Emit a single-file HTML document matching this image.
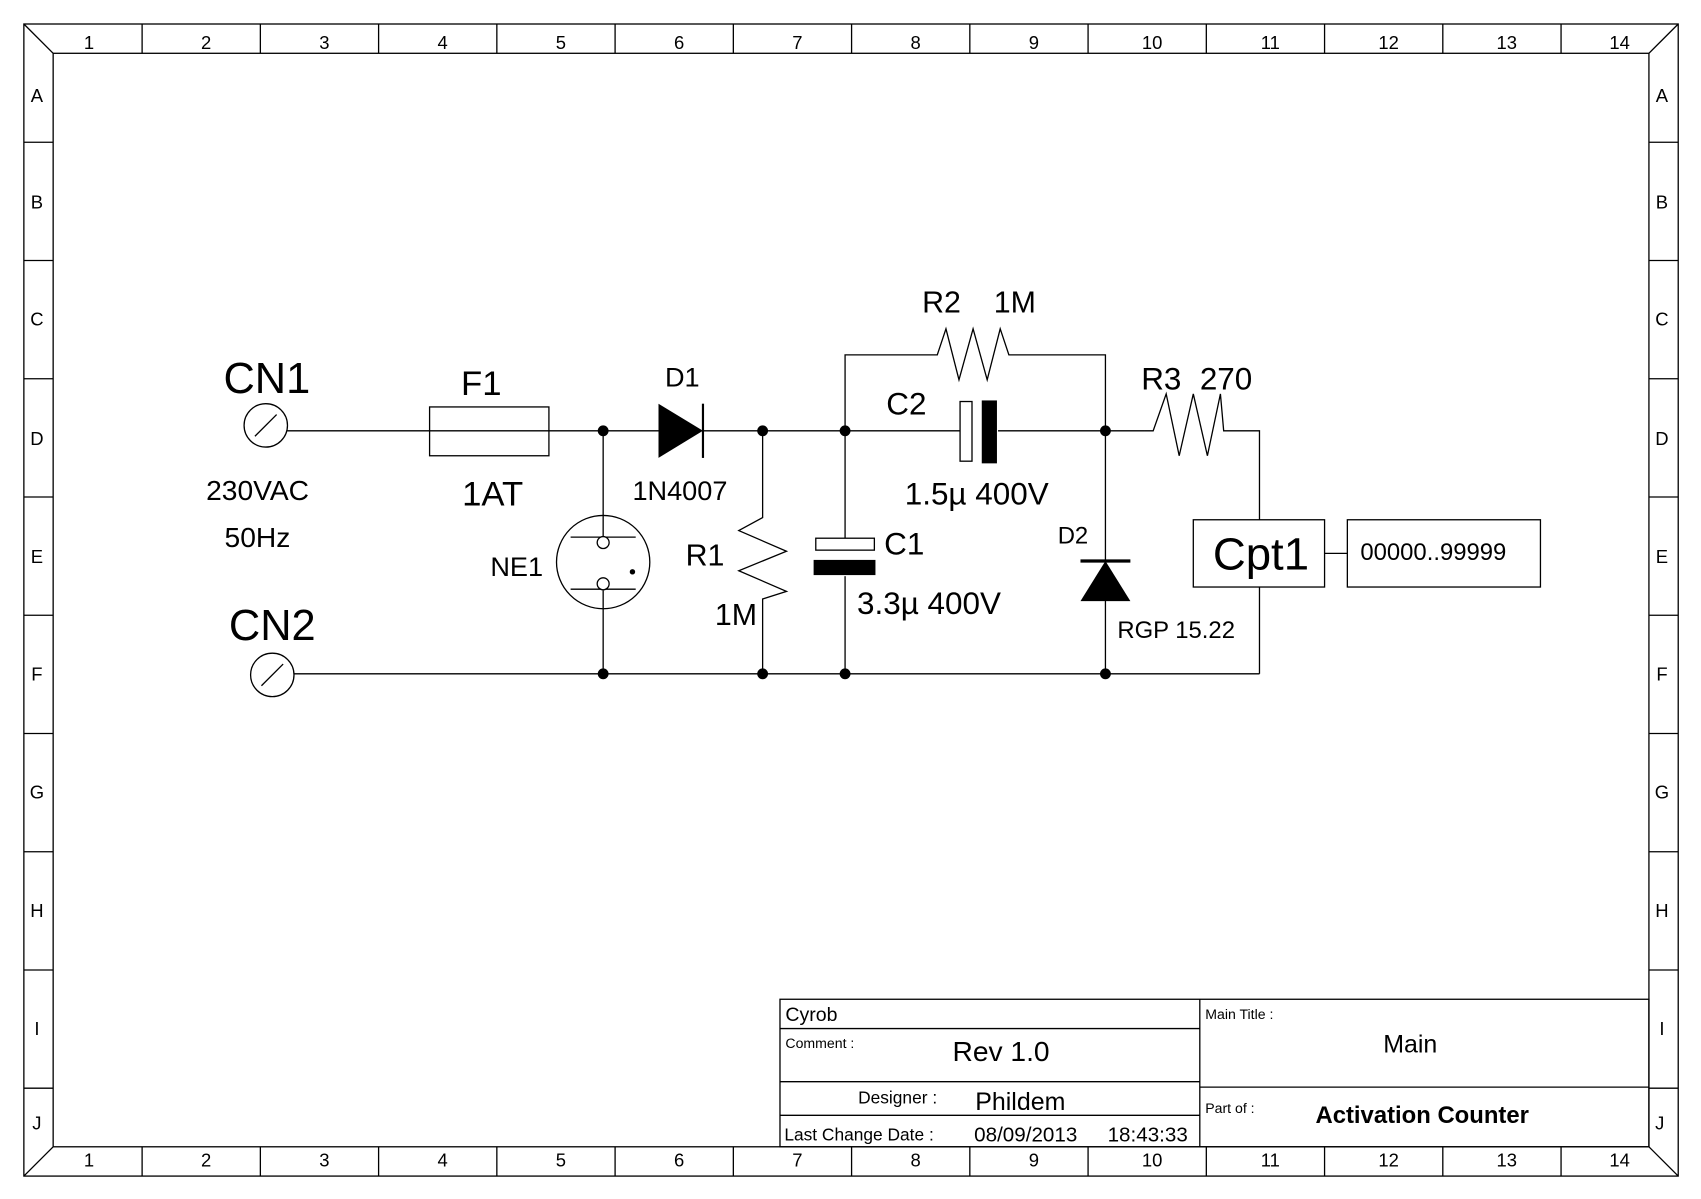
<!DOCTYPE html>
<html><head><meta charset="utf-8"><style>html,body{margin:0;padding:0;background:#fff}svg{display:block}text{font-family:"Liberation Sans",Arial,sans-serif;fill:#000}</style></head>
<body>
<svg width="1701" height="1199" viewBox="0 0 1568 1105" xmlns="http://www.w3.org/2000/svg">
<g fill="none" stroke="#000" stroke-width="1.2">
<rect x="22" y="22" width="1525" height="1062"/>
<rect x="49" y="49" width="1471" height="1008"/>
<line x1="22" y1="22" x2="49" y2="49"/><line x1="1547" y1="22" x2="1520" y2="49"/>
<line x1="22" y1="1084" x2="49" y2="1057"/><line x1="1547" y1="1084" x2="1520" y2="1057"/>
<path d="M131 22V49M240 22V49M349 22V49M458 22V49M567 22V49M676 22V49M785 22V49M894 22V49M1003 22V49M1112 22V49M1221 22V49M1330 22V49M1439 22V49"/>
<path d="M131 1057V1084M240 1057V1084M349 1057V1084M458 1057V1084M567 1057V1084M676 1057V1084M785 1057V1084M894 1057V1084M1003 1057V1084M1112 1057V1084M1221 1057V1084M1330 1057V1084M1439 1057V1084"/>
<path d="M22 131H49M22 240H49M22 349H49M22 458H49M22 567H49M22 676H49M22 785H49M22 894H49M22 1003H49"/>
<path d="M1520 131H1547M1520 240H1547M1520 349H1547M1520 458H1547M1520 567H1547M1520 676H1547M1520 785H1547M1520 894H1547M1520 1003H1547"/>
</g>
<g font-size="17" text-anchor="middle">
<text x="82" y="45">1</text><text x="190" y="45">2</text><text x="299" y="45">3</text><text x="408" y="45">4</text><text x="517" y="45">5</text><text x="626" y="45">6</text><text x="735" y="45">7</text><text x="844" y="45">8</text><text x="953" y="45">9</text><text x="1062" y="45">10</text><text x="1171" y="45">11</text><text x="1280" y="45">12</text><text x="1389" y="45">13</text><text x="1493" y="45">14</text>
<text x="82" y="1075">1</text><text x="190" y="1075">2</text><text x="299" y="1075">3</text><text x="408" y="1075">4</text><text x="517" y="1075">5</text><text x="626" y="1075">6</text><text x="735" y="1075">7</text><text x="844" y="1075">8</text><text x="953" y="1075">9</text><text x="1062" y="1075">10</text><text x="1171" y="1075">11</text><text x="1280" y="1075">12</text><text x="1389" y="1075">13</text><text x="1493" y="1075">14</text>
<text x="34" y="94">A</text><text x="34" y="192">B</text><text x="34" y="300">C</text><text x="34" y="410">D</text><text x="34" y="519">E</text><text x="34" y="627">F</text><text x="34" y="736">G</text><text x="34" y="845">H</text><text x="34" y="954">I</text><text x="34" y="1041">J</text>
<text x="1532" y="94">A</text><text x="1532" y="192">B</text><text x="1532" y="300">C</text><text x="1532" y="410">D</text><text x="1532" y="519">E</text><text x="1532" y="627">F</text><text x="1532" y="736">G</text><text x="1532" y="845">H</text><text x="1532" y="954">I</text><text x="1530" y="1041">J</text>
</g>
<g fill="none" stroke="#000" stroke-width="1.2">
<rect x="719" y="921" width="801" height="136"/>
<line x1="1106" y1="921" x2="1106" y2="1057"/>
<line x1="719" y1="948" x2="1106" y2="948"/>
<line x1="719" y1="997" x2="1106" y2="997"/>
<line x1="719" y1="1028" x2="1106" y2="1028"/>
<line x1="1106" y1="1002" x2="1520" y2="1002"/>
</g>
<text x="724" y="941" font-size="18">Cyrob</text>
<text x="724" y="966" font-size="13">Comment :</text>
<text x="878" y="978" font-size="26">Rev 1.0</text>
<text x="791" y="1017" font-size="16">Designer :</text>
<text x="899" y="1023" font-size="23">Phildem</text>
<text x="723" y="1051" font-size="16">Last Change Date :</text>
<text x="898" y="1052" font-size="19">08/09/2013</text>
<text x="1021" y="1052" font-size="19">18:43:33</text>
<text x="1111" y="939" font-size="13">Main Title :</text>
<text x="1300" y="970" font-size="23" text-anchor="middle">Main</text>
<text x="1111" y="1026" font-size="13">Part of :</text>
<text x="1311" y="1035" font-size="22" font-weight="bold" text-anchor="middle">Activation Counter</text>
<g fill="none" stroke="#000" stroke-width="1.2">
<circle cx="245" cy="392" r="20"/><line x1="235" y1="402" x2="255" y2="382"/>
<circle cx="251" cy="622" r="20"/><line x1="241" y1="632" x2="261" y2="612"/>
<line x1="265" y1="397" x2="607" y2="397"/>
<rect x="396" y="375" width="110" height="45"/>
<line x1="648" y1="397" x2="885" y2="397"/>
<line x1="920" y1="397" x2="1055" y2="397"/>
<polyline points="1055,397 1063,397 1075,363 1087,420 1100,363 1113,420 1125,363 1128,397 1161,397 1161,479"/>
<polyline points="779,397 779,327 864,327 872,303 884,350 897,303 910,350 922,303 930,327 1019,327 1019,397"/>
<line x1="271" y1="621" x2="1161" y2="621"/>
<line x1="1161" y1="621" x2="1161" y2="541"/>
<line x1="556" y1="397" x2="556" y2="494"/>
<line x1="556" y1="544" x2="556" y2="621"/>
<circle cx="556" cy="518" r="43"/>
<line x1="526" y1="495" x2="586" y2="495"/><line x1="526" y1="543" x2="586" y2="543"/>
<circle cx="556" cy="500" r="5.5" fill="#fff"/><circle cx="556" cy="538" r="5.5" fill="#fff"/>
<polyline points="703,397 703,477 681,489 725,508 681,526 725,545 703,552 703,621"/>
<line x1="779" y1="397" x2="779" y2="496"/><line x1="779" y1="531" x2="779" y2="621"/>
<rect x="752" y="496" width="54" height="11"/>
<rect x="885" y="370" width="11" height="55"/>
<line x1="1019" y1="397" x2="1019" y2="621"/>
<rect x="1100" y="479" width="121" height="62"/>
<line x1="1221" y1="510" x2="1242" y2="510"/>
<rect x="1242" y="479" width="178" height="62"/>
<line x1="996" y1="517" x2="1042" y2="517" stroke-width="3"/>
<line x1="648" y1="372" x2="648" y2="422" stroke-width="2"/>
</g>
<polygon points="607,372 648,397 607,422"/>
<rect x="750" y="516" width="57" height="14"/>
<rect x="905" y="369" width="14" height="58"/>
<polygon points="996,554 1019,517 1042,554"/>
<circle cx="583" cy="527" r="2.5"/>
<g>
<circle cx="556" cy="397" r="5"/><circle cx="703" cy="397" r="5"/><circle cx="779" cy="397" r="5"/><circle cx="1019" cy="397" r="5"/>
<circle cx="556" cy="621" r="5"/><circle cx="703" cy="621" r="5"/><circle cx="779" cy="621" r="5"/><circle cx="1019" cy="621" r="5"/>
</g>
<text x="206" y="362" font-size="40">CN1</text>
<text x="211" y="590" font-size="40">CN2</text>
<text x="190" y="461" font-size="26">230VAC</text>
<text x="207" y="504" font-size="26">50Hz</text>
<text x="425" y="364" font-size="32">F1</text>
<text x="426" y="466" font-size="32">1AT</text>
<text x="613" y="356" font-size="25">D1</text>
<text x="583" y="461" font-size="25">1N4007</text>
<text x="452" y="531" font-size="25">NE1</text>
<text x="632" y="521" font-size="28">R1</text>
<text x="659" y="576" font-size="28">1M</text>
<text x="850" y="288" font-size="28">R2</text>
<text x="916" y="288" font-size="28">1M</text>
<text x="817" y="382" font-size="29">C2</text>
<text x="834" y="465" font-size="29">1.5µ 400V</text>
<text x="815" y="511" font-size="29">C1</text>
<text x="790" y="566" font-size="29">3.3µ 400V</text>
<text x="1052" y="359" font-size="29">R3</text>
<text x="1106" y="359" font-size="29">270</text>
<text x="975" y="501" font-size="22">D2</text>
<text x="1030" y="588" font-size="22">RGP 15.22</text>
<text x="1118" y="525" font-size="42">Cpt1</text>
<text x="1254" y="516" font-size="22">00000..99999</text>
</svg>
</body></html>
